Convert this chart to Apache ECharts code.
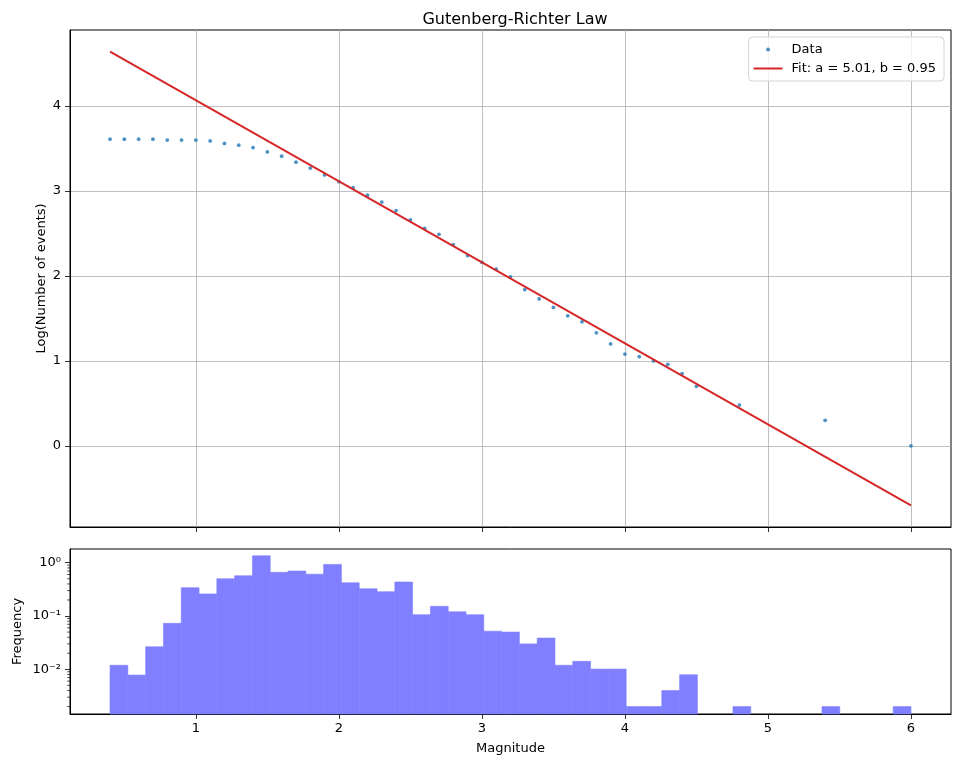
<!DOCTYPE html>
<html>
<head>
<meta charset="utf-8">
<title>Gutenberg-Richter Law</title>
<script src="https://cdn.jsdelivr.net/npm/echarts@6.0.0/dist/echarts.min.js"></script>
<style>
  html, body { margin: 0; padding: 0; background: #fff; }
  #chart-container { width: 960px; height: 766px; }
</style>
</head>
<body>
<div id="chart-container"></div>
<script>

// upper plot: log10 of cumulative number of events per magnitude
const magnitudes = [
  0.4, 0.5, 0.6, 0.7, 0.8, 0.9, 1.0, 1.1, 1.2, 1.3,
  1.4, 1.5, 1.6, 1.7, 1.8, 1.9, 2.0, 2.1, 2.2, 2.3,
  2.4, 2.5, 2.6, 2.7, 2.8, 2.9, 3.0, 3.1, 3.2, 3.3,
  3.4, 3.5, 3.6, 3.7, 3.8, 3.9, 4.0, 4.1, 4.2, 4.3,
  4.4, 4.5, 4.8, 5.4, 6.0
];
const logCounts = [
  3.61, 3.61, 3.61, 3.61, 3.60, 3.60, 3.60, 3.59, 3.56, 3.54,
  3.51, 3.46, 3.41, 3.34, 3.27, 3.19, 3.11, 3.04, 2.95, 2.87,
  2.77, 2.66, 2.56, 2.49, 2.37, 2.24, 2.16, 2.08, 1.99, 1.84,
  1.73, 1.63, 1.53, 1.46, 1.33, 1.20, 1.08, 1.05, 1.00, 0.96,
  0.85, 0.70, 0.48, 0.30, 0.00
];

// fit line, both ends
const fitLabel = 'Fit: a = 5.01, b = 0.95';
const fitX = [0.4, 6.0];
const fitY = [4.64, -0.70];

// lower plot: histogram, 45 equal bins from 0.4 to 6.0 (density, log scale)
const histStart = 0.4;
const histEnd = 6.0;
const histFreq = [
  0.0119, 0.0078, 0.0265, 0.073, 0.34, 0.26, 0.50, 0.57, 1.35, 0.66,
  0.70, 0.61, 0.93, 0.42, 0.325, 0.286, 0.435, 0.106, 0.152, 0.12,
  0.106, 0.052, 0.050, 0.030, 0.0386, 0.0119, 0.0141, 0.0101, 0.0101, 0.0020,
  0.0020, 0.0040, 0.0079, 0, 0, 0.0020, 0, 0, 0, 0,
  0.0020, 0, 0, 0, 0.0020
];

// tick positions
const xTicks = [1, 2, 3, 4, 5, 6];
const yTicks = [0, 1, 2, 3, 4];
const logTicks = [0.01, 0.1, 1];

// axis ranges (matplotlib default 5% margins)
const xMin = 0.12, xMax = 6.28;
const yMin = -0.956, yMax = 4.896;
const logMin = 0.00145, logMax = 1.81;

const FONT = 'DejaVu Sans';
const TXT = '#000';
const BAR = '#7f7fff';

var dom = document.getElementById('chart-container');
var myChart = echarts.init(dom, null, { renderer: 'canvas' });

// build point pairs for the scatter and line
var scatterData = magnitudes.map((m, i) => [m, logCounts[i]]);
var fitData = fitX.map((x, i) => [x, fitY[i]]);

// histogram rows: [left edge, right edge, height], empty bins dropped
var binW = (histEnd - histStart) / histFreq.length;
var histData = [];
for (let i = 0; i < histFreq.length; i++)
{
   if (histFreq[i] > 0) histData.push([histStart + i * binW, histStart + (i + 1) * binW, histFreq[i]]);
}

const supMap = { '0': '\u2070', '1': '\u00b9', '2': '\u00b2', '3': '\u00b3', '-': '\u207b' };
function powLabel(v)
{
   var e = Math.log10(v);
   if (Math.abs(e - Math.round(e)) > 1e-6) return '';
   return '10' + String(Math.round(e)).split('').map(c => supMap[c]).join('');
}

function intLabel(v)
{
   return Math.abs(v - Math.round(v)) < 1e-6 ? String(Math.round(v)) : '';
}

function renderBar(params, api)
{
   var top0 = api.coord([api.value(0), api.value(2)]);
   var top1 = api.coord([api.value(1), api.value(2)]);
   var bottom = params.coordSys.y + params.coordSys.height;
   // stroke in same colour hides the seams between neighbour bins
   return {
      type: 'rect',
      shape: { x: top0[0], y: top0[1], width: top1[0] - top0[0], height: bottom - top0[1] },
      style: { fill: BAR, stroke: BAR, lineWidth: 0.6 }
   };
}

// matplotlib style minor ticks on the log axis (2..9 x 10^n)
function renderMinorTicks(params, api)
{
   var children = [];
   var x = params.coordSys.x;
   for (let e = -3; e <= 0; e++)
   {
      for (let m = 2; m <= 9; m++)
      {
         var v = m * Math.pow(10, e);
         if (v < logMin || v > logMax) continue;
         var y = api.coord([xMin, v])[1];
         children.push({
            type: 'line',
            shape: { x1: x - 2.8, y1: y, x2: x, y2: y },
            style: { stroke: '#000', lineWidth: 0.7 }
         });
      }
   }
   return { type: 'group', children: children };
}

var axisLineStyle = { onZero: false, lineStyle: { color: '#000', width: 1 } };
function ticks(vals) { return { show: true, length: 5, customValues: vals, lineStyle: { color: '#000', width: 0.8 } }; }
var gridLine = { show: true, lineStyle: { color: '#b0b0b0', width: 0.8 } };
var nameStyle = { fontFamily: FONT, fontSize: 13, color: TXT };

var option =
{
   animation: false,
   backgroundColor: '#fff',
   textStyle: { fontFamily: FONT },
   title:
   {
      text: 'Gutenberg-Richter Law',
      left: 510, top: 7, textAlign: 'center',
      textStyle: { fontFamily: FONT, fontSize: 16, fontWeight: 'normal', color: TXT }
   },
   legend:
   {
      data: [ { name: 'Data' }, { name: fitLabel, itemStyle: { opacity: 0 } } ],
      orient: 'vertical',
      right: 16, top: 37,
      itemWidth: 29, itemHeight: 4, itemGap: 6,
      padding: [6, 8, 6, 4],
      backgroundColor: 'rgba(255,255,255,0.8)',
      borderColor: '#d4d4d4', borderWidth: 1, borderRadius: 4,
      textStyle: { fontFamily: FONT, fontSize: 13, color: TXT, padding: [0, 0, 0, 4] }
   },
   grid:
   [
      { left: 70, right: 9, top: 30, bottom: 239, show: true, borderColor: '#000', borderWidth: 1, backgroundColor: 'transparent' },
      { left: 70, right: 9, top: 549, bottom: 52, show: true, borderColor: '#000', borderWidth: 1, backgroundColor: 'transparent' }
   ],
   xAxis:
   [
      {
         type: 'value', gridIndex: 0, min: xMin, max: xMax,
         axisLine: axisLineStyle, axisTick: ticks(xTicks),
         axisLabel: { show: false, customValues: xTicks },
         splitLine: gridLine
      },
      {
         type: 'value', gridIndex: 1, min: xMin, max: xMax,
         name: 'Magnitude', nameLocation: 'middle', nameGap: 28, nameMoveOverlap: false,
         nameTextStyle: nameStyle,
         axisLine: axisLineStyle, axisTick: ticks(xTicks),
         axisLabel: { fontFamily: FONT, fontSize: 13, color: TXT, margin: 8, customValues: xTicks, formatter: intLabel },
         splitLine: { show: false }
      }
   ],
   yAxis:
   [
      {
         type: 'value', gridIndex: 0, min: yMin, max: yMax,
         name: 'Log(Number of events)', nameLocation: 'middle', nameGap: 22, nameMoveOverlap: false,
         nameTextStyle: nameStyle,
         axisLine: axisLineStyle, axisTick: ticks(yTicks),
         axisLabel: { fontFamily: FONT, fontSize: 13, color: TXT, margin: 9, customValues: yTicks, formatter: intLabel },
         splitLine: gridLine
      },
      {
         type: 'log', logBase: 10, gridIndex: 1, min: logMin, max: logMax,
         name: 'Frequency', nameLocation: 'middle', nameGap: 46, nameMoveOverlap: false,
         nameTextStyle: nameStyle,
         axisLine: axisLineStyle, axisTick: ticks(logTicks),
         axisLabel: { fontFamily: FONT, fontSize: 13, color: TXT, margin: 9, customValues: logTicks, formatter: powLabel },
         splitLine: { show: false }
      }
   ],
   series:
   [
      {
         name: 'Data', type: 'scatter',
         xAxisIndex: 0, yAxisIndex: 0,
         symbol: 'circle', symbolSize: 3.8,
         itemStyle: { color: '#1f77b4' },
         data: scatterData, z: 3
      },
      {
         name: fitLabel, type: 'line',
         xAxisIndex: 0, yAxisIndex: 0,
         symbol: 'none',
         lineStyle: { color: '#d62728', width: 2 },
         itemStyle: { color: '#d62728' },
         data: fitData, z: 4
      },
      {
         name: 'hist', type: 'custom',
         xAxisIndex: 1, yAxisIndex: 1,
         renderItem: renderBar,
         encode: { x: [0, 1], y: 2 },
         data: histData
      },
      {
         name: 'minorTicks', type: 'custom',
         xAxisIndex: 1, yAxisIndex: 1,
         renderItem: renderMinorTicks,
         clip: false, silent: true,
         encode: { x: 0, y: 1 },
         data: [[xMin, logMin]]
      }
   ]
};

myChart.setOption(option);
window.addEventListener('resize', myChart.resize);

</script>
</body>
</html>
